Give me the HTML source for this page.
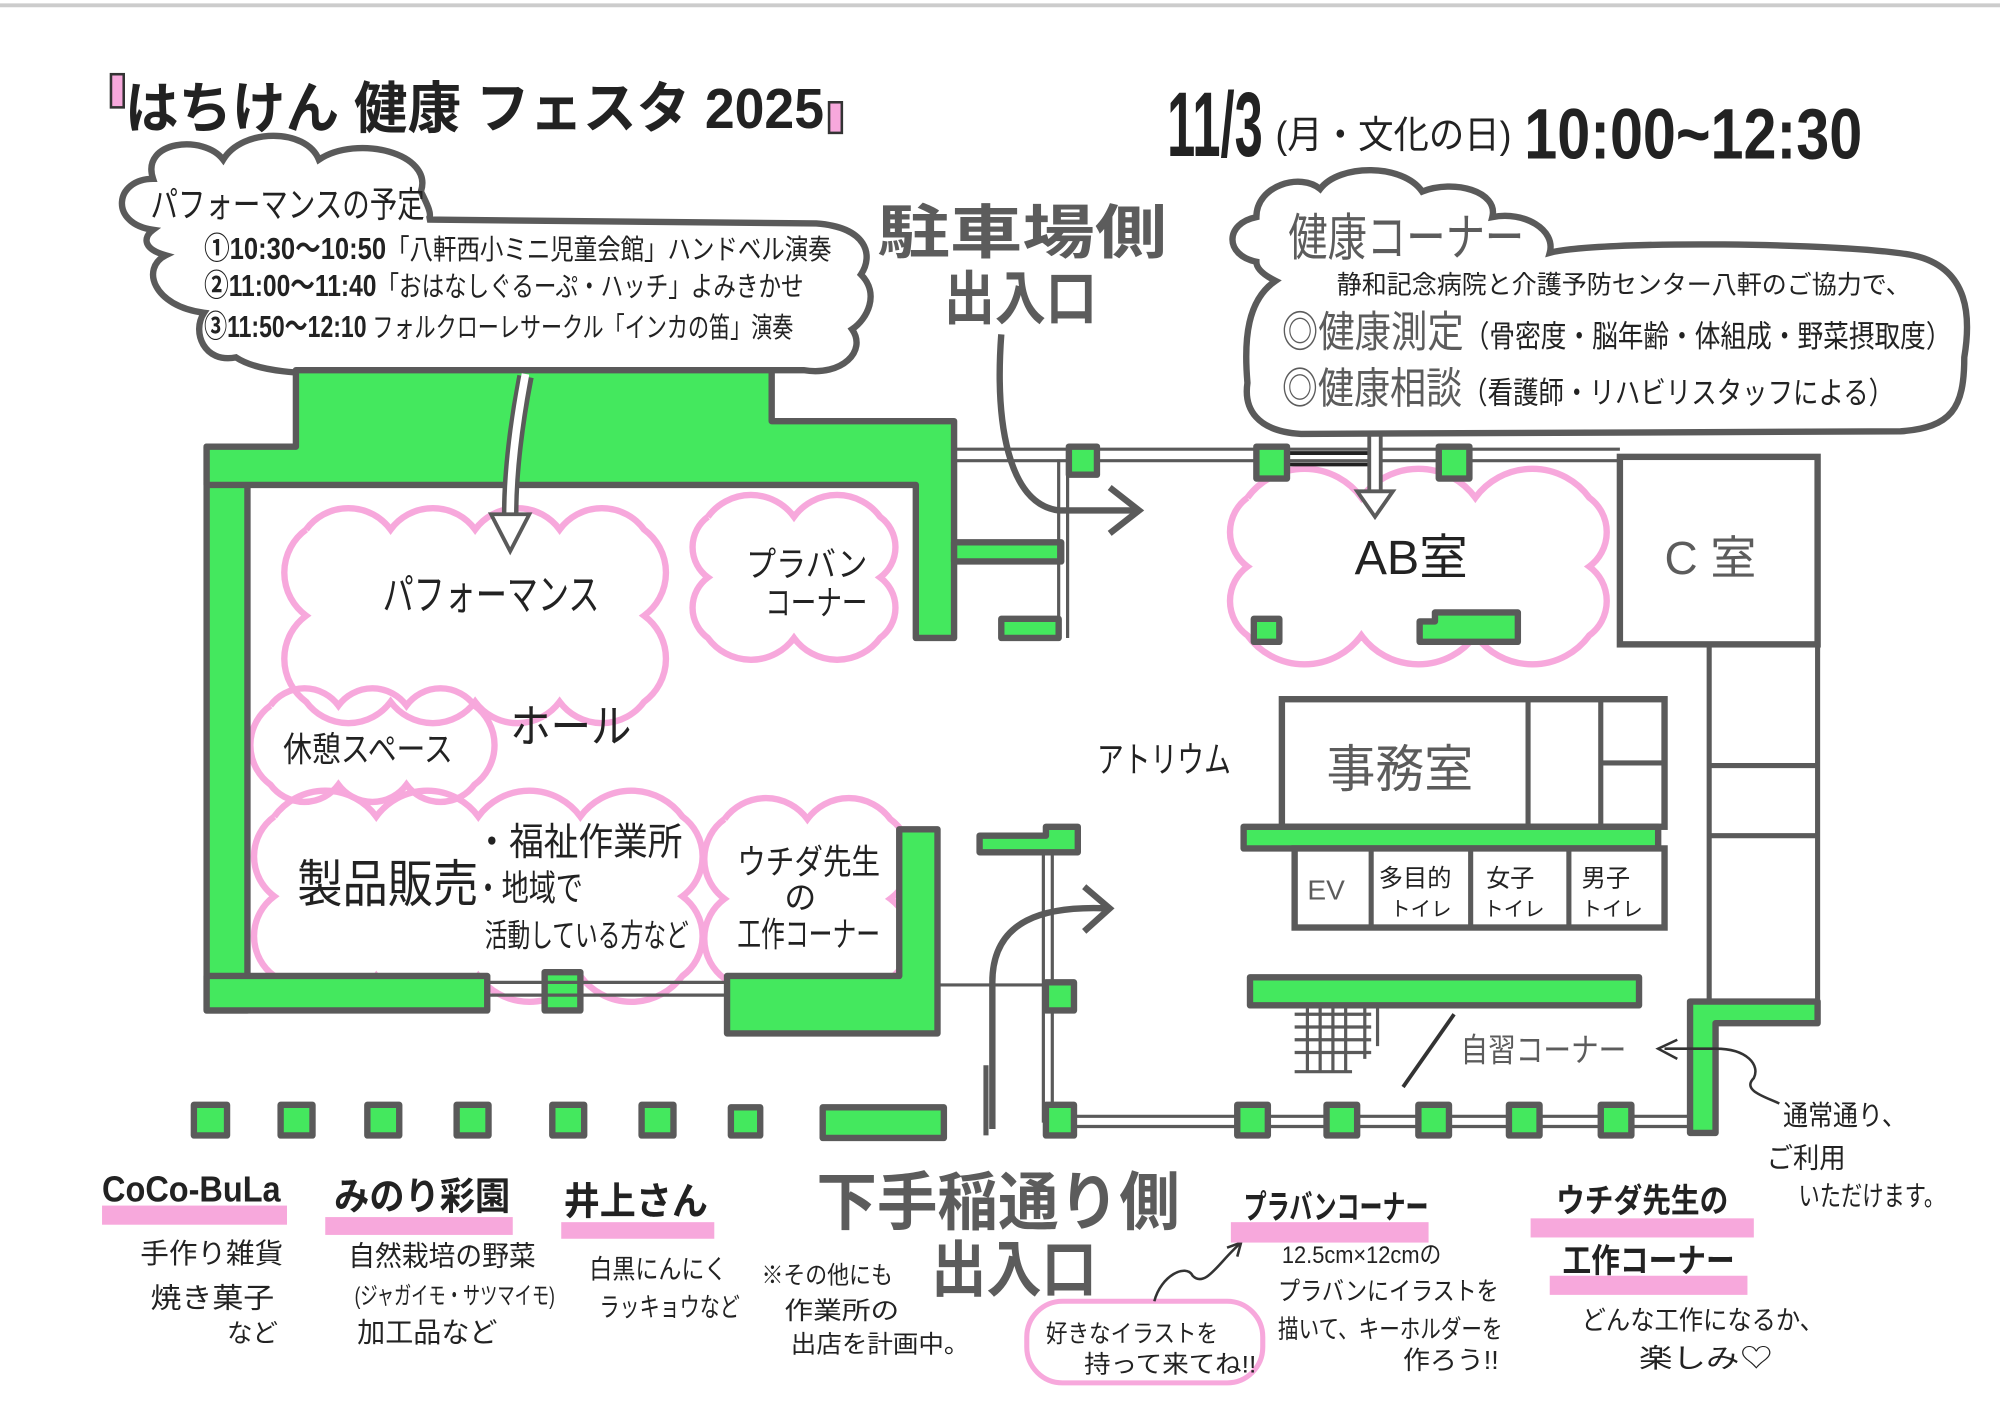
<!DOCTYPE html>
<html><head><meta charset="utf-8"><style>
html,body{margin:0;padding:0;background:#fff}
svg{display:block}
text{font-family:"Liberation Sans","Noto Sans CJK JP",sans-serif;fill:#222}
.g{fill:#44e85e;stroke:#5a5a5a;stroke-width:5;stroke-linejoin:round}
.w{fill:#fff;stroke:#5a5a5a;stroke-width:5}
.l{fill:none;stroke:#5a5a5a;stroke-width:4}
.t{fill:none;stroke:#5a5a5a;stroke-width:2.5}
.pk{fill:#f7a8dc}
.gt{fill:#5c5c5c}
</style></head><body>
<svg id="s" width="2000" height="1415" viewBox="0 0 1568 1109" xmlns="http://www.w3.org/2000/svg">
<line x1="0" y1="4" x2="1568" y2="4" stroke="#ccc" stroke-width="3"/>
<g id="clouds"></g>
<!-- Title -->
<rect x="87" y="58" width="10" height="26" class="pk" stroke="#333" stroke-width="2"/>
<rect x="650" y="80" width="10" height="24" class="pk" stroke="#333" stroke-width="2"/>
<text x="98" y="100" font-size="44" font-weight="bold" textLength="548" lengthAdjust="spacingAndGlyphs">はちけん 健康 フェスタ 2025</text>
<text x="915" y="122" font-size="72" font-weight="bold" textLength="75" lengthAdjust="spacingAndGlyphs">11/3</text>
<text x="1000" y="116" font-size="30" textLength="185" lengthAdjust="spacingAndGlyphs">(月・文化の日)</text>
<text x="1195" y="124" font-size="56" font-weight="bold" textLength="265" lengthAdjust="spacingAndGlyphs">10:00~12:30</text>

<!-- Performance bubble -->
<path class="w" stroke-width="4" d="M120,180 C85,175 90,140 120,140 C110,110 160,105 175,125 C190,100 240,100 250,125 C280,105 340,120 330,150 C335,160 340,170 335,172 L640,175 C680,178 685,200 675,215 C690,230 680,250 668,258 C680,275 660,295 630,290 L420,290 L300,292 C230,295 200,290 185,280 C160,285 150,260 160,245 C120,240 110,210 130,200 C112,195 112,186 120,180 Z"/>
<text x="118" y="170" font-size="28" textLength="215" lengthAdjust="spacingAndGlyphs">パフォーマンスの予定</text>
<text x="160" y="203" font-size="22" textLength="492" lengthAdjust="spacingAndGlyphs"><tspan font-weight="bold" font-size="24">①10:30～10:50</tspan>「八軒西小ミニ児童会館」ハンドベル演奏</text>
<text x="160" y="232" font-size="22" textLength="470" lengthAdjust="spacingAndGlyphs"><tspan font-weight="bold" font-size="24">②11:00～11:40</tspan>「おはなしぐるーぷ・ハッチ」よみきかせ</text>
<text x="160" y="264" font-size="22" textLength="462" lengthAdjust="spacingAndGlyphs"><tspan font-weight="bold" font-size="24">③11:50～12:10</tspan> フォルクローレサークル「インカの笛」演奏</text>

<!-- Hall -->
<rect class="g" x="162" y="350" width="32" height="442"/>
<path class="g" d="M162,350 L232,350 L232,290 L605,290 L605,330 L748,330 L748,500 L718,500 L718,380 L194,380 L162,380 Z"/>
<rect class="g" x="162" y="765" width="220" height="27"/>
<rect class="g" x="427" y="762" width="28" height="30"/>
<path class="g" d="M570,765 L705,765 L705,650 L735,650 L735,810 L570,810 Z"/>
<line class="t" x1="382" y1="770" x2="570" y2="770"/><line class="t" x1="382" y1="780" x2="570" y2="780"/>
<path class="g" d="M748,425 L832,425 L832,440 L748,440 Z"/>
<rect class="g" x="785" y="485" width="45" height="15"/>
<path class="g" d="M768,655 L820,655 L820,648 L845,648 L845,668 L768,668 Z"/>
<line class="t" x1="735" y1="772" x2="820" y2="772"/>
<!-- corridor lines -->
<line class="t" x1="748" y1="352" x2="1270" y2="352"/><line class="t" x1="748" y1="361" x2="1270" y2="361"/>
<line class="t" x1="830" y1="360" x2="830" y2="500"/><line class="t" x1="837" y1="360" x2="837" y2="500"/>
<line class="t" x1="818" y1="668" x2="818" y2="880"/><line class="t" x1="825" y1="668" x2="825" y2="880"/>
<line x1="1010" y1="355" x2="1075" y2="355" stroke="#222" stroke-width="3"/>
<line x1="1010" y1="364" x2="1075" y2="364" stroke="#222" stroke-width="3"/>
<rect class="g" x="838" y="350" width="22" height="22"/>
<rect class="g" x="985" y="350" width="24" height="25"/>
<rect class="g" x="1128" y="350" width="24" height="25"/>
<!-- C room & right corridor -->
<rect class="w" x="1270" y="358" width="155" height="147"/>
<text x="1305" y="450" font-size="36" class="gt">C 室</text>
<path class="l" d="M1425,505 L1425,795 M1340,505 L1340,795 M1340,600 L1425,600 M1340,655 L1425,655"/>
<path class="g" d="M1340,785 L1425,785 L1425,802 L1345,802 L1345,888 L1325,888 L1325,785 Z"/>
<line class="t" x1="825" y1="875" x2="1325" y2="875"/><line class="t" x1="825" y1="883" x2="1325" y2="883"/>
<g>
<rect class="g" x="820" y="866" width="22" height="24"/>
<rect class="g" x="970" y="866" width="24" height="24"/>
<rect class="g" x="1040" y="866" width="24" height="24"/>
<rect class="g" x="1112" y="866" width="24" height="24"/>
<rect class="g" x="1183" y="866" width="24" height="24"/>
<rect class="g" x="1255" y="866" width="24" height="24"/>
<rect class="g" x="820" y="770" width="22" height="22"/>
</g>
<!-- AB room -->
<text x="1062" y="450" font-size="38">AB室</text>
<rect class="g" x="983" y="485" width="20" height="18"/>
<path class="g" d="M1113,487 L1125,487 L1125,480 L1190,480 L1190,503 L1113,503 Z"/>
<!-- office -->
<rect class="w" x="1005" y="548" width="300" height="100"/>
<path class="l" d="M1198,548 L1198,648 M1255,548 L1255,648 M1255,598 L1305,598"/>
<text x="1040" y="617" font-size="40" class="gt" textLength="115" lengthAdjust="spacingAndGlyphs">事務室</text>
<rect class="g" x="975" y="648" width="325" height="17"/>
<rect class="w" x="1015" y="665" width="290" height="62"/>
<path class="l" d="M1075,665 L1075,727 M1153,665 L1153,727 M1230,665 L1230,727"/>
<text x="1025" y="705" font-size="22" class="gt">EV</text>
<text x="1081" y="695" font-size="19">多目的</text><text x="1090" y="718" font-size="16">トイレ</text>
<text x="1165" y="695" font-size="19">女子</text><text x="1163" y="718" font-size="16">トイレ</text>
<text x="1240" y="695" font-size="19">男子</text><text x="1240" y="718" font-size="16">トイレ</text>
<rect class="g" x="980" y="766" width="305" height="22"/>
<path class="t" d="M1015,795 L1075,795 M1015,805 L1075,805 M1015,815 L1075,815 M1015,825 L1075,825 M1015,840 L1060,840 M1025,790 L1025,840 M1035,790 L1035,840 M1045,790 L1045,840 M1055,790 L1055,840 M1070,790 L1070,830 M1080,790 L1080,820"/>
<line x1="1100" y1="852" x2="1140" y2="795" stroke="#333" stroke-width="3"/>
<text x="1145" y="832" font-size="26" class="gt" textLength="130" lengthAdjust="spacingAndGlyphs">自習コーナー</text>
<path d="M1305,822 L1345,822 C1370,822 1380,835 1375,845 C1365,855 1385,860 1395,865" fill="none" stroke="#333" stroke-width="2"/>
<path d="M1315,815 L1300,822 L1315,830" fill="none" stroke="#333" stroke-width="2"/>
<text x="1398" y="882" font-size="22" textLength="97" lengthAdjust="spacingAndGlyphs">通常通り、</text>
<text x="1385" y="915" font-size="22" textLength="62" lengthAdjust="spacingAndGlyphs">ご利用</text>
<text x="1410" y="945" font-size="22" textLength="115" lengthAdjust="spacingAndGlyphs">いただけます。</text>
<text x="860" y="605" font-size="28" textLength="105" lengthAdjust="spacingAndGlyphs">アトリウム</text>

<!-- arrows -->
<path d="M785,262 C780,330 790,395 830,400 L890,400" fill="none" stroke="#5a5a5a" stroke-width="5"/>
<path d="M870,382 L893,400 L870,418" fill="none" stroke="#5a5a5a" stroke-width="5"/>
<path d="M778,885 L778,770 C778,720 820,710 868,712" fill="none" stroke="#5a5a5a" stroke-width="5"/>
<path d="M850,695 L870,712 L850,730" fill="none" stroke="#5a5a5a" stroke-width="5"/>
<line class="l" x1="773" y1="835" x2="773" y2="890"/>
<path d="M412,295 C405,330 400,370 400,402" fill="none" stroke="#5a5a5a" stroke-width="13"/>
<path d="M412,293 C405,330 400,370 400,404" fill="none" stroke="#fff" stroke-width="6"/>
<path d="M385,403 L415,403 L400,432 Z" fill="#fff" stroke="#5a5a5a" stroke-width="3"/>
<path d="M1078,340 L1078,385" stroke="#5a5a5a" stroke-width="12"/>
<path d="M1078,338 L1078,386" stroke="#fff" stroke-width="6"/>
<path d="M1064,385 L1092,385 L1078,405 Z" fill="#fff" stroke="#5a5a5a" stroke-width="3"/>

<!-- health bubble -->
<path class="w" stroke-width="4" d="M985,205 C960,200 960,175 985,170 C985,145 1020,135 1035,148 C1050,128 1100,128 1115,150 C1140,140 1175,150 1170,170 C1195,165 1220,180 1215,198 C1250,188 1450,190 1500,200 C1545,210 1545,250 1540,280 C1540,320 1530,335 1490,338 L1020,340 C985,338 975,320 978,300 C975,265 978,235 1000,220 C990,215 985,210 985,205 Z"/>
<text x="1010" y="200" font-size="40" class="gt" textLength="185" lengthAdjust="spacingAndGlyphs">健康コーナー</text>
<text x="1048" y="230" font-size="20" textLength="450" lengthAdjust="spacingAndGlyphs">静和記念病院と介護予防センター八軒のご協力で、</text>
<text x="1005" y="272" font-size="24" textLength="525" lengthAdjust="spacingAndGlyphs"><tspan font-size="34" class="gt">◎健康測定</tspan>（骨密度・脳年齢・体組成・野菜摂取度）</text>
<text x="1005" y="316" font-size="24" textLength="480" lengthAdjust="spacingAndGlyphs"><tspan font-size="34" class="gt">◎健康相談</tspan>（看護師・リハビリスタッフによる）</text>

<text x="688" y="198" font-size="46" class="gt" font-weight="bold" textLength="227" lengthAdjust="spacingAndGlyphs">駐車場側</text>
<text x="740" y="250" font-size="46" class="gt" font-weight="bold" textLength="120" lengthAdjust="spacingAndGlyphs">出入口</text>
<text x="640" y="960" font-size="50" class="gt" font-weight="bold" textLength="285" lengthAdjust="spacingAndGlyphs">下手稲通り側</text>
<text x="730" y="1012" font-size="48" class="gt" font-weight="bold" textLength="130" lengthAdjust="spacingAndGlyphs">出入口</text>

<!-- hall labels -->
<text x="300" y="478" font-size="34" textLength="170" lengthAdjust="spacingAndGlyphs">パフォーマンス</text>
<text x="585" y="452" font-size="27" textLength="95" lengthAdjust="spacingAndGlyphs">プラバン</text><text x="600" y="482" font-size="27" textLength="80" lengthAdjust="spacingAndGlyphs">コーナー</text>
<text x="222" y="597" font-size="27" textLength="133" lengthAdjust="spacingAndGlyphs">休憩スペース</text>
<text x="400" y="582" font-size="36" textLength="95" lengthAdjust="spacingAndGlyphs">ホール</text>
<text x="233" y="707" font-size="40" textLength="142" lengthAdjust="spacingAndGlyphs">製品販売</text>
<text x="372" y="670" font-size="30" textLength="163" lengthAdjust="spacingAndGlyphs">・福祉作業所</text>
<text x="372" y="706" font-size="28" textLength="85" lengthAdjust="spacingAndGlyphs">・地域で</text>
<text x="380" y="742" font-size="25" textLength="160" lengthAdjust="spacingAndGlyphs">活動している方など</text>
<text x="578" y="685" font-size="27" textLength="112" lengthAdjust="spacingAndGlyphs">ウチダ先生</text>
<text x="615" y="712" font-size="25">の</text>
<text x="578" y="742" font-size="27" textLength="112" lengthAdjust="spacingAndGlyphs">工作コーナー</text>

<!-- bottom pillars -->
<g>
<rect class="g" x="152" y="866" width="26" height="24"/>
<rect class="g" x="220" y="866" width="25" height="24"/>
<rect class="g" x="288" y="866" width="25" height="24"/>
<rect class="g" x="358" y="866" width="25" height="24"/>
<rect class="g" x="433" y="866" width="25" height="24"/>
<rect class="g" x="503" y="866" width="25" height="24"/>
<rect class="g" x="573" y="868" width="23" height="22"/>
<rect class="g" x="645" y="868" width="95" height="24"/>
</g>

<!-- bottom labels -->
<rect class="pk" x="80" y="945" width="145" height="15"/>
<text x="80" y="942" font-size="28" font-weight="bold" textLength="140" lengthAdjust="spacingAndGlyphs">CoCo-BuLa</text>
<text x="110" y="990" font-size="22" textLength="112" lengthAdjust="spacingAndGlyphs">手作り雑貨</text>
<text x="118" y="1025" font-size="22" textLength="97" lengthAdjust="spacingAndGlyphs">焼き菓子</text>
<text x="178" y="1052" font-size="20">など</text>
<rect class="pk" x="255" y="954" width="147" height="14"/>
<text x="262" y="948" font-size="30" font-weight="bold" textLength="138" lengthAdjust="spacingAndGlyphs">みのり彩園</text>
<text x="273" y="992" font-size="22" textLength="147" lengthAdjust="spacingAndGlyphs">自然栽培の野菜</text>
<text x="278" y="1022" font-size="19" textLength="157" lengthAdjust="spacingAndGlyphs">(ジャガイモ・サツマイモ)</text>
<text x="280" y="1052" font-size="22" textLength="110" lengthAdjust="spacingAndGlyphs">加工品など</text>
<rect class="pk" x="440" y="958" width="120" height="13"/>
<text x="442" y="952" font-size="30" font-weight="bold" textLength="113" lengthAdjust="spacingAndGlyphs">井上さん</text>
<text x="462" y="1002" font-size="21" textLength="108" lengthAdjust="spacingAndGlyphs">白黒にんにく</text>
<text x="470" y="1032" font-size="21" textLength="110" lengthAdjust="spacingAndGlyphs">ラッキョウなど</text>
<text x="597" y="1006" font-size="19" textLength="103" lengthAdjust="spacingAndGlyphs">※その他にも</text>
<text x="615" y="1034" font-size="19" textLength="90" lengthAdjust="spacingAndGlyphs">作業所の</text>
<text x="620" y="1060" font-size="19" textLength="140" lengthAdjust="spacingAndGlyphs">出店を計画中。</text>
<rect x="805" y="1020" width="185" height="64" rx="28" fill="none" stroke="#f7a8dc" stroke-width="4"/>
<text x="820" y="1052" font-size="19" textLength="135" lengthAdjust="spacingAndGlyphs">好きなイラストを</text>
<text x="850" y="1076" font-size="19" textLength="135" lengthAdjust="spacingAndGlyphs">持って来てね!!</text>
<path d="M905,1020 C910,1000 930,990 935,1000 C945,1010 955,990 972,975" fill="none" stroke="#333" stroke-width="2"/>
<path d="M962,978 L973,974 L970,985" fill="none" stroke="#333" stroke-width="2"/>
<rect class="pk" x="965" y="958" width="155" height="16"/>
<text x="975" y="955" font-size="26" font-weight="bold" textLength="145" lengthAdjust="spacingAndGlyphs">プラバンコーナー</text>
<text x="1005" y="990" font-size="19" textLength="125" lengthAdjust="spacingAndGlyphs">12.5cm×12cmの</text>
<text x="1002" y="1019" font-size="20" textLength="173" lengthAdjust="spacingAndGlyphs">プラバンにイラストを</text>
<text x="1002" y="1049" font-size="20" textLength="176" lengthAdjust="spacingAndGlyphs">描いて、キーホルダーを</text>
<text x="1100" y="1073" font-size="20" textLength="75" lengthAdjust="spacingAndGlyphs">作ろう!!</text>
<rect class="pk" x="1200" y="955" width="175" height="15"/>
<text x="1220" y="950" font-size="26" font-weight="bold" textLength="135" lengthAdjust="spacingAndGlyphs">ウチダ先生の</text>
<rect class="pk" x="1215" y="1000" width="155" height="15"/>
<text x="1225" y="997" font-size="26" font-weight="bold" textLength="135" lengthAdjust="spacingAndGlyphs">工作コーナー</text>
<text x="1240" y="1042" font-size="21" textLength="190" lengthAdjust="spacingAndGlyphs">どんな工作になるか、</text>
<text x="1285" y="1072" font-size="21" textLength="105" lengthAdjust="spacingAndGlyphs">楽しみ♡</text>
</svg>
<script>
(function(){
var g=document.getElementById('clouds');
function cloud(x,y,w,h,n,m){
  var pts=[],i;
  for(i=0;i<n;i++)pts.push([x+w*i/n,y]);
  for(i=0;i<m;i++)pts.push([x+w,y+h*i/m]);
  for(i=0;i<n;i++)pts.push([x+w-w*i/n,y+h]);
  for(i=0;i<m;i++)pts.push([x,y+h-h*i/m]);
  var d='M'+pts[0][0]+','+pts[0][1];
  for(i=1;i<=pts.length;i++){
    var p=pts[i%pts.length],q=pts[i-1];
    var r=Math.hypot(p[0]-q[0],p[1]-q[1])*0.62;
    d+=' A'+r+','+r+' 0 0 1 '+p[0]+','+p[1];
  }
  var e=document.createElementNS('http://www.w3.org/2000/svg','path');
  e.setAttribute('d',d);e.setAttribute('fill','none');
  e.setAttribute('stroke','#f7a8dc');e.setAttribute('stroke-width','5');
  g.appendChild(e);
}
cloud(240,415,265,135,4,2);
cloud(555,405,135,95,2,2);
cloud(212,553,160,62,3,1);
cloud(215,640,320,125,4,2);
cloud(568,642,130,125,2,2);
cloud(978,390,268,108,3,2);
})();
</script>
</body></html>
